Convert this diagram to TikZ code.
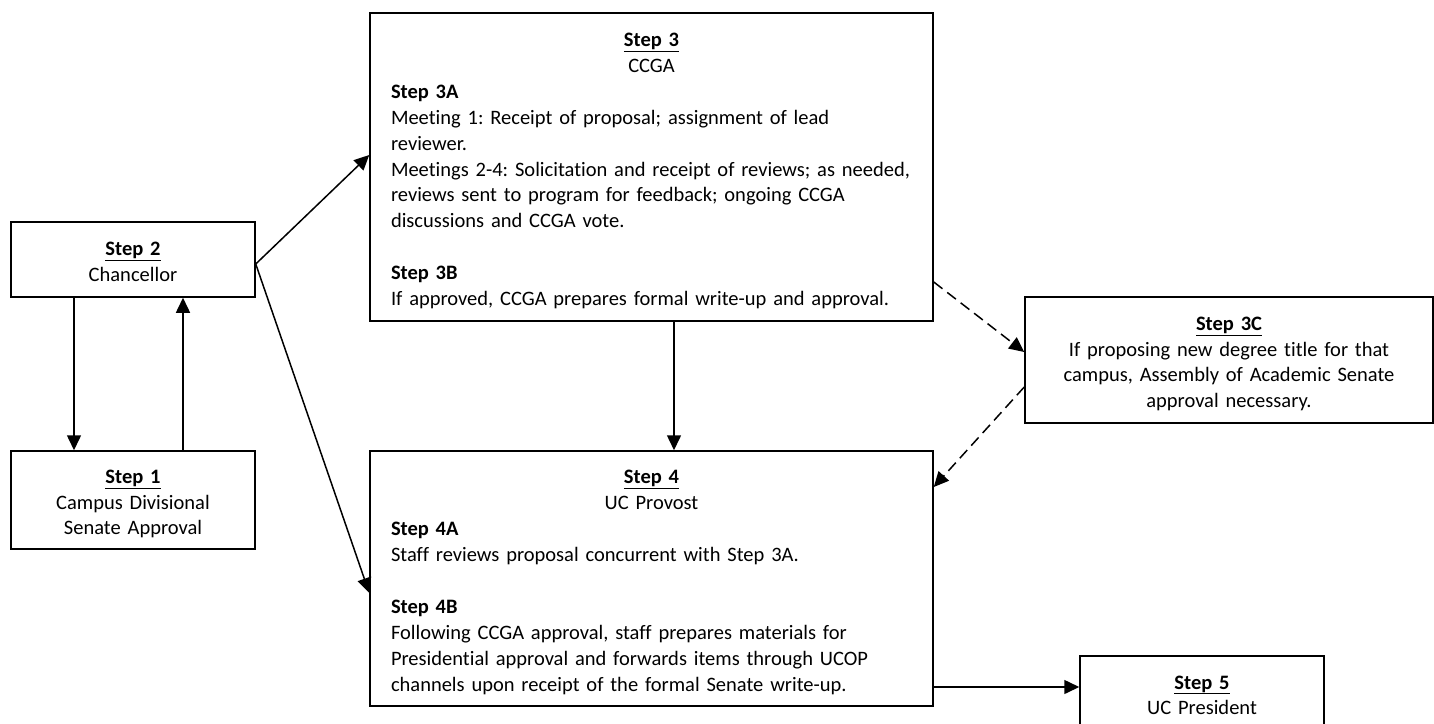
\documentclass[tikz,border=0pt]{standalone}
\usepackage{fontspec}
\setmainfont{Carlito}[Ligatures=CommonOff]
\usetikzlibrary{arrows.meta}
\frenchspacing
\newcommand{\topstrut}{\rule{0pt}{23pt}}
\newcommand{\botstrut}{\rule[-5pt]{0pt}{5pt}}
\newcommand{\leftbody}{\raggedright\rightskip=0pt plus 1fil minus 25pt\relax}
\tikzset{stepbox/.style={rectangle,draw,line width=1.5pt,inner xsep=10pt,inner ysep=0pt,align=center,font=\fontsize{20.5}{25.9}\selectfont,execute at begin node=\topstrut,execute at end node=\botstrut}}
\tikzset{widebox/.style={stepbox,inner xsep=21pt,text width=521pt,align=left,minimum height=#1}}
\tikzset{link/.style={line width=1.5pt},optlink/.style={link,dash pattern=on 11pt off 6pt}}

\begin{document}
\begin{tikzpicture}[x=1pt,y=-1pt,>={Triangle[length=15pt,width=14pt]}]
    \useasboundingbox (0,0) rectangle (1434,723);
    \node[stepbox,text width=224pt,minimum height=75pt] (chan) at (133,259.5) {\underline{\textbf{Step 2}}\\Chancellor};
    \node[stepbox,text width=224pt,minimum height=98pt] (campus) at (133,500) {\underline{\textbf{Step 1}}\\Campus Divisional\\Senate Approval};
    \node[widebox=308pt] (ccga) at (651.5,167) {\centering\underline{\textbf{Step 3}}\\CCGA\par
        \leftbody\textbf{Step 3A}\\Meeting 1: Receipt of proposal; assignment of lead\\reviewer.\\Meetings 2-4: Solicitation and receipt of reviews; as needed,\\reviews sent to program for feedback; ongoing CCGA\\discussions and CCGA vote.\\[\baselineskip]\textbf{Step 3B}\\If approved, CCGA prepares formal write-up and approval.};
    \node[stepbox,text width=388pt,minimum height=126pt] (assem) at (1229,360) {\underline{\textbf{Step 3C}}\\If proposing new degree title for that\\campus, Assembly of Academic Senate\\approval necessary.};
    \node[widebox=255pt] (provost) at (651.5,578.5) {\centering\underline{\textbf{Step 4}}\\UC Provost\par
        \leftbody\textbf{Step 4A}\\Staff reviews proposal concurrent with Step 3A.\\[\baselineskip]\textbf{Step 4B}\\Following CCGA approval, staff prepares materials for\\Presidential approval and forwards items through UCOP\\channels upon receipt of the formal Senate write-up.};
    \node[stepbox,text width=224pt,minimum height=74pt] (pres) at (1202,693) {\underline{\textbf{Step 5}}\\UC President};

    \draw [link,->] ([xshift=-59pt]chan.south) to [] ([xshift=-59pt]campus.north);
    \draw [link,->] ([xshift=50pt]campus.north) to [] ([xshift=50pt]chan.south);
    \draw [link,->] ([yshift=-4.5pt]chan.east) to [] ([yshift=12pt]ccga.west);
    \draw [link,->] ([yshift=-4.5pt]chan.east) to [] ([yshift=-14.5pt]provost.west);
    \draw [link,->] ([xshift=22.5pt]ccga.south) to [] ([xshift=22.5pt]provost.north);
    \draw [optlink,->] ([yshift=-115pt]ccga.east) to [] ([yshift=8pt]assem.west);
    \draw [optlink,->] ([yshift=-27pt]assem.west) to [] ([yshift=91.5pt]provost.east);
    \draw [link,->] ([yshift=-108.5pt]provost.east) to [] ([yshift=6pt]pres.west);
\end{tikzpicture}
\end{document}
